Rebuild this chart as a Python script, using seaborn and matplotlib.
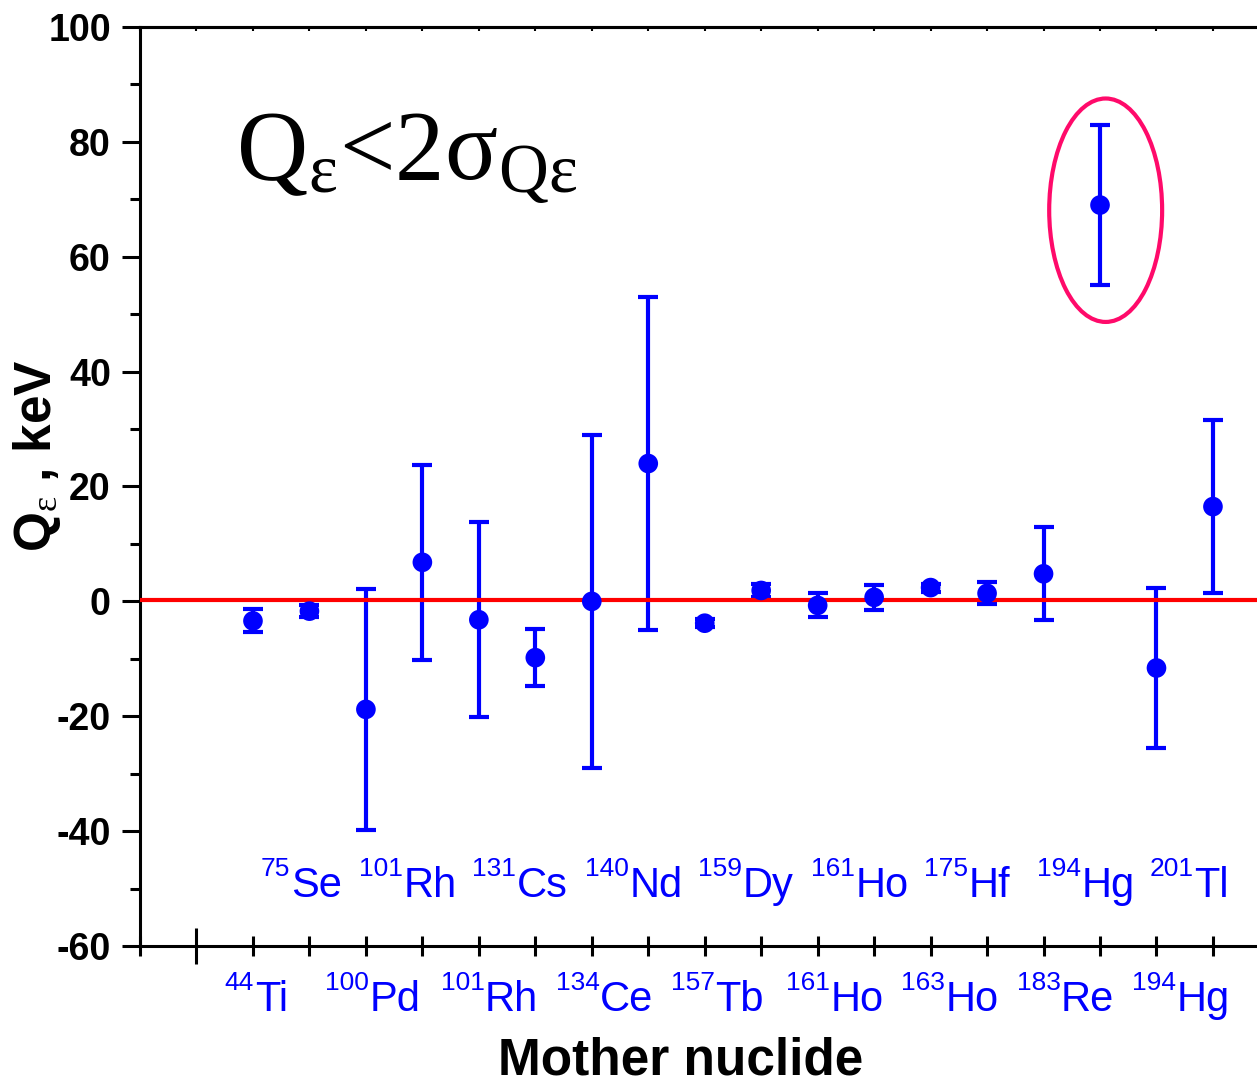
import numpy as np
import pandas as pd
import seaborn as sns
from matplotlib import pyplot as plt
from matplotlib.patches import Ellipse
from matplotlib.ticker import FixedLocator, MultipleLocator

sns.set_style("ticks", {"axes.edgecolor": "black", "text.color": "black",
                        "axes.labelcolor": "black", "xtick.color": "black",
                        "ytick.color": "black"})
plt.rcParams["font.family"] = ["Liberation Sans", "DejaVu Sans"]
plt.rcParams["axes.unicode_minus"] = False
plt.rcParams["mathtext.fontset"] = "custom"
plt.rcParams["mathtext.rm"] = "Liberation Serif"
plt.rcParams["mathtext.it"] = "Liberation Serif:italic"
plt.rcParams["mathtext.bf"] = "Liberation Serif:bold"

# data
mass = ["44", "75", "100", "101", "101", "131", "134", "140", "157",
        "159", "161", "161", "163", "175", "183", "194", "194", "201"]
symbol = ["Ti", "Se", "Pd", "Rh", "Rh", "Cs", "Ce", "Nd", "Tb",
          "Dy", "Ho", "Ho", "Ho", "Hf", "Re", "Hg", "Hg", "Tl"]
q_value = [-3.4, -1.7, -18.8, 6.8, -3.2, -9.8, 0.0, 24.0, -3.8,
           1.9, -0.7, 0.7, 2.4, 1.4, 4.8, 69.0, -11.6, 16.5]
q_error = [2.0, 1.0, 21.0, 17.0, 17.0, 5.0, 29.0, 29.0, 0.7,
           1.1, 2.1, 2.2, 0.7, 1.9, 8.1, 14.0, 14.0, 15.0]

df = pd.DataFrame({"pos": np.arange(2, 2 + len(q_value)),
                   "q": q_value, "err": q_error,
                   "mass": mass, "symbol": symbol})

fig = plt.figure(figsize=(12.57, 10.84), dpi=100)
ax = fig.add_axes([0.1114, 0.1273, 0.8886, 0.8478])

blue = "#0000ff"
ax.errorbar(df["pos"], df["q"], yerr=df["err"], fmt="none", ecolor=blue,
            elinewidth=3, capsize=7, capthick=3, zorder=2)
ax.axhline(0.2, color="#ff0000", lw=3, zorder=3)
sns.scatterplot(data=df, x="pos", y="q", ax=ax, color=blue, s=200,
                edgecolor="none", zorder=4, legend=False)

# nuclide labels, alternating below / above the axis
for i, row in df.iterrows():
    if i % 2 == 0:
        xs, yb = row["pos"] + 0.02 + 0.02 * i, -71.3
    else:
        xs, yb = row["pos"] - 0.34, -51.4
    ax.text(xs, yb + 3.6, row["mass"], ha="right", va="baseline",
            fontsize=19, color=blue, clip_on=False)
    ax.text(xs + 0.01, yb, row["symbol"], ha="left", va="baseline",
            fontsize=30, color=blue, clip_on=False)

ax.add_patch(Ellipse((17.1, 68.1), width=2.0, height=38.9, fill=False,
                     edgecolor="#ff0a6a", lw=3, zorder=5))
ax.text(1.70, 73.7, r"Q$_{\mathrm{ε}}$<2σ$_{\mathrm{Qε}}$", fontsize=71,
        family="Liberation Serif", va="baseline")

ax.set_xlim(0, 19.78)
ax.set_ylim(-60, 100)
ax.spines["right"].set_visible(False)
for s in ["left", "bottom", "top"]:
    ax.spines[s].set_linewidth(2.2)

ax.xaxis.set_major_locator(FixedLocator([1]))
ax.xaxis.set_minor_locator(MultipleLocator(1))
ax.tick_params(axis="x", which="major", direction="inout", length=26,
               width=2.2, labelbottom=False)
ax.tick_params(axis="x", which="minor", direction="inout", length=14,
               width=2.2)
ax.yaxis.set_major_locator(MultipleLocator(20))
ax.yaxis.set_minor_locator(MultipleLocator(10))
ax.tick_params(axis="y", which="major", direction="out", length=13,
               width=2.2, labelsize=27, pad=8)
ax.tick_params(axis="y", which="minor", direction="out", length=7,
               width=2.2)
for lab in ax.get_yticklabels():
    lab.set_fontweight("bold")

top = ax.secondary_xaxis("top")
top.set_xticks(np.arange(0, 20))
top.tick_params(direction="in", length=3, width=1.5, labeltop=False)
top.spines["top"].set_linewidth(2.2)

ax.set_xlabel("Mother nuclide", fontsize=37, fontweight="bold")
ax.xaxis.set_label_coords(0.484, -0.098)
ax.set_ylabel(r"Q$_{\mathrm{ε}}$ , keV", fontsize=37, fontweight="bold")
ax.yaxis.set_label_coords(-0.069, 0.533)

fig.savefig("out.png", dpi=100)
